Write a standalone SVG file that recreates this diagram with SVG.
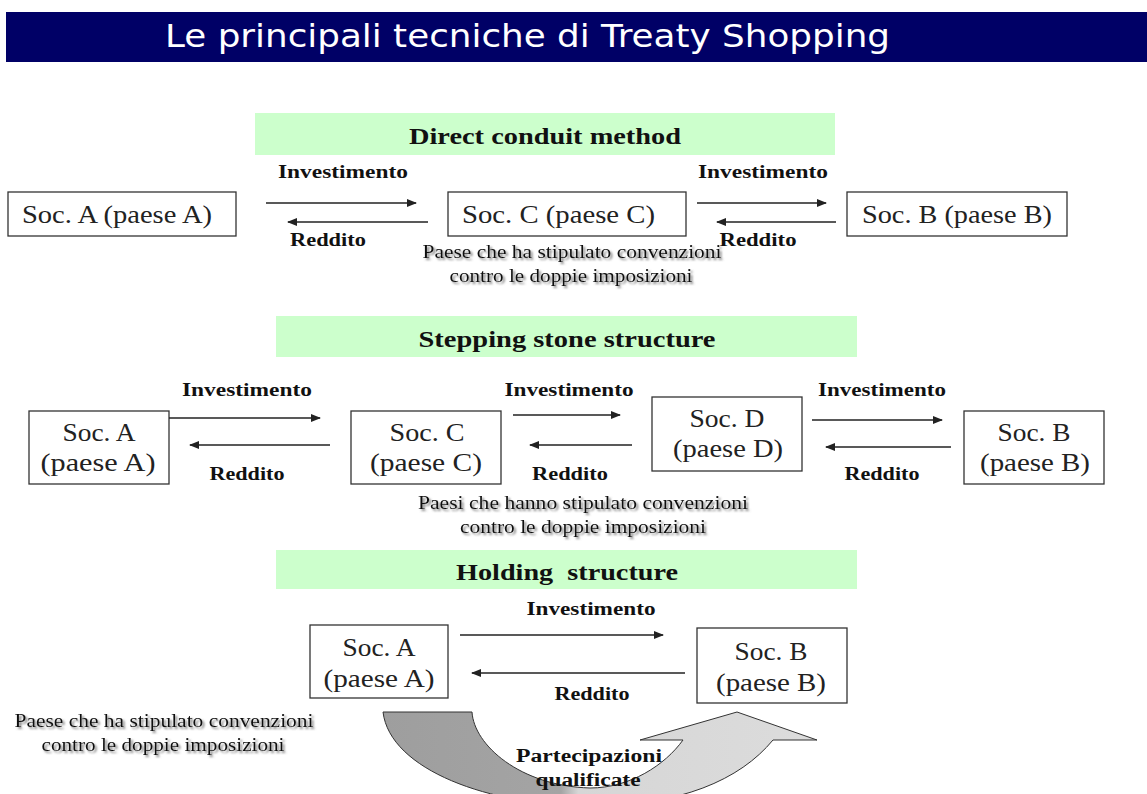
<svg xmlns="http://www.w3.org/2000/svg" width="1147" height="794" viewBox="0 0 1147 794">
  <style>
    .title { font-family: "DejaVu Sans", Verdana, sans-serif; font-size: 32px; fill: #ffffff; }
    .band { fill: #ccffcc; }
    .head { font-family: "Liberation Serif", "Times New Roman", serif; font-size: 24px; font-weight: bold; fill: #111; text-anchor: middle; white-space: pre; }
    .box { fill: #ffffff; stroke: #333; stroke-width: 1.3; }
    .lbl { font-family: "Liberation Serif", "Times New Roman", serif; font-size: 25px; fill: #222; }
    .mid { text-anchor: middle; }
    .edge { font-family: "Liberation Serif", "Times New Roman", serif; font-size: 18px; font-weight: bold; fill: #111; text-anchor: middle; }
    .note { font-family: "Liberation Serif", "Times New Roman", serif; font-size: 18px; fill: #111; text-anchor: middle; filter: url(#shadow); }
    .link { stroke: #222; stroke-width: 1.4; fill: none; marker-end: url(#head); }
  </style>
  <defs>
    <marker id="head" viewBox="0 0 10 8" refX="9" refY="4" markerWidth="10" markerHeight="8" markerUnits="userSpaceOnUse" orient="auto">
      <path d="M0,0 L10,4 L0,8 Z" fill="#222"/>
    </marker>
    <filter id="shadow" x="-5%" y="-30%" width="115%" height="170%">
      <feDropShadow dx="2" dy="2" stdDeviation="1.2" flood-color="#666" flood-opacity="0.85"/>
    </filter>
    <linearGradient id="uturn" gradientUnits="userSpaceOnUse" x1="383" y1="0" x2="817" y2="0">
      <stop offset="0" stop-color="#9e9e9e"/>
      <stop offset="0.41" stop-color="#a4a4a4"/>
      <stop offset="0.45" stop-color="#d6d6d6"/>
      <stop offset="1" stop-color="#dcdcdc"/>
    </linearGradient>
  </defs>

  <!-- title bar -->
  <g id="title">
    <rect x="6" y="12" width="1141" height="50" fill="#000066"/>
    <text class="title" x="165" y="47" textLength="725" lengthAdjust="spacingAndGlyphs">Le principali tecniche di Treaty Shopping</text>
  </g>

  <!-- section headings -->
  <g id="heading-direct">
    <rect class="band" x="255" y="113" width="580" height="42"/>
    <text class="head" x="545" y="144" textLength="272" lengthAdjust="spacingAndGlyphs">Direct conduit method</text>
  </g>
  <g id="heading-stepping">
    <rect class="band" x="276" y="316" width="581" height="41"/>
    <text class="head" x="567" y="347" textLength="297" lengthAdjust="spacingAndGlyphs">Stepping stone structure</text>
  </g>
  <g id="heading-holding">
    <rect class="band" x="276" y="550" width="581" height="39"/>
    <text class="head" x="567" y="580" textLength="222" lengthAdjust="spacingAndGlyphs" xml:space="preserve">Holding  structure</text>
  </g>

  <!-- curved holding arrow -->
  <g id="participations">
    <path d="M383,712 L472,712 C474,745 520,786 590,788 C630,788 665,765 683,740 L640,740 L737,712 L817,740 L773,740 C740,780 680,806 590,806 C490,806 390,770 383,712 Z" fill="url(#uturn)" stroke="#333" stroke-width="1"/>
    <text class="edge" x="589" y="762" textLength="146" lengthAdjust="spacingAndGlyphs">Partecipazioni</text>
    <text class="edge" x="588" y="786" textLength="105" lengthAdjust="spacingAndGlyphs">qualificate</text>
  </g>

  <!-- row 1: direct conduit -->
  <g id="d-socA">
    <rect class="box" x="8" y="192" width="228" height="44"/>
    <text class="lbl" x="22" y="223" textLength="190" lengthAdjust="spacingAndGlyphs">Soc. A (paese A)</text>
  </g>
  <g id="d-socC">
    <rect class="box" x="448" y="192" width="238" height="44"/>
    <text class="lbl" x="462" y="223" textLength="193" lengthAdjust="spacingAndGlyphs">Soc. C (paese C)</text>
  </g>
  <g id="d-socB">
    <rect class="box" x="847" y="192" width="220" height="44"/>
    <text class="lbl" x="862" y="223" textLength="190" lengthAdjust="spacingAndGlyphs">Soc. B (paese B)</text>
  </g>
  <g id="d-note">
    <text class="note" x="572" y="258" textLength="299" lengthAdjust="spacingAndGlyphs">Paese che ha stipulato convenzioni</text>
    <text class="note" x="571" y="282" textLength="243" lengthAdjust="spacingAndGlyphs">contro le doppie imposizioni</text>
  </g>

  <!-- row 2: stepping stone -->
  <g id="s-socA">
    <rect class="box" x="29" y="411" width="140" height="73"/>
    <text class="lbl mid" x="99" y="441" textLength="73" lengthAdjust="spacingAndGlyphs">Soc. A</text>
    <text class="lbl mid" x="98" y="471" textLength="115" lengthAdjust="spacingAndGlyphs">(paese A)</text>
  </g>
  <g id="s-socC">
    <rect class="box" x="351" y="411" width="150" height="73"/>
    <text class="lbl mid" x="427" y="441" textLength="75" lengthAdjust="spacingAndGlyphs">Soc. C</text>
    <text class="lbl mid" x="426" y="471" textLength="112" lengthAdjust="spacingAndGlyphs">(paese C)</text>
  </g>
  <g id="s-socD">
    <rect class="box" x="652" y="397" width="150" height="74"/>
    <text class="lbl mid" x="727" y="427" textLength="75" lengthAdjust="spacingAndGlyphs">Soc. D</text>
    <text class="lbl mid" x="728" y="457" textLength="110" lengthAdjust="spacingAndGlyphs">(paese D)</text>
  </g>
  <g id="s-socB">
    <rect class="box" x="964" y="411" width="140" height="73"/>
    <text class="lbl mid" x="1034" y="441" textLength="73" lengthAdjust="spacingAndGlyphs">Soc. B</text>
    <text class="lbl mid" x="1035" y="471" textLength="110" lengthAdjust="spacingAndGlyphs">(paese B)</text>
  </g>
  <g id="s-note">
    <text class="note" x="583" y="509" textLength="330" lengthAdjust="spacingAndGlyphs">Paesi che hanno stipulato convenzioni</text>
    <text class="note" x="583" y="533" textLength="246" lengthAdjust="spacingAndGlyphs">contro le doppie imposizioni</text>
  </g>

  <!-- row 3: holding -->
  <g id="h-socA">
    <rect class="box" x="310" y="625" width="138" height="73"/>
    <text class="lbl mid" x="379" y="656" textLength="73" lengthAdjust="spacingAndGlyphs">Soc. A</text>
    <text class="lbl mid" x="379" y="687" textLength="111" lengthAdjust="spacingAndGlyphs">(paese A)</text>
  </g>
  <g id="h-socB">
    <rect class="box" x="697" y="628" width="150" height="75"/>
    <text class="lbl mid" x="771" y="660" textLength="73" lengthAdjust="spacingAndGlyphs">Soc. B</text>
    <text class="lbl mid" x="771" y="691" textLength="110" lengthAdjust="spacingAndGlyphs">(paese B)</text>
  </g>
  <g id="h-note">
    <text class="note" x="164" y="727" textLength="299" lengthAdjust="spacingAndGlyphs">Paese che ha stipulato convenzioni</text>
    <text class="note" x="163" y="751" textLength="243" lengthAdjust="spacingAndGlyphs">contro le doppie imposizioni</text>
  </g>

  <!-- connectors -->
  <g id="connectors">
    <!-- direct conduit -->
    <line class="link" x1="266" y1="203" x2="416" y2="203"/>
    <line class="link" x1="428" y1="222" x2="288" y2="222"/>
    <line class="link" x1="697" y1="203" x2="826" y2="203"/>
    <line class="link" x1="836" y1="222" x2="717" y2="222"/>
    <text class="edge" x="343" y="178" textLength="130" lengthAdjust="spacingAndGlyphs">Investimento</text>
    <text class="edge" x="328" y="246" textLength="76" lengthAdjust="spacingAndGlyphs">Reddito</text>
    <text class="edge" x="763" y="178" textLength="130" lengthAdjust="spacingAndGlyphs">Investimento</text>
    <text class="edge" x="758" y="246" textLength="77" lengthAdjust="spacingAndGlyphs">Reddito</text>

    <!-- stepping stone -->
    <line class="link" x1="169" y1="418" x2="320" y2="418"/>
    <line class="link" x1="330" y1="445" x2="190" y2="445"/>
    <line class="link" x1="513" y1="415" x2="620" y2="415"/>
    <line class="link" x1="632" y1="445" x2="530" y2="445"/>
    <line class="link" x1="812" y1="420" x2="942" y2="420"/>
    <line class="link" x1="951" y1="447" x2="826" y2="447"/>
    <text class="edge" x="247" y="396" textLength="130" lengthAdjust="spacingAndGlyphs">Investimento</text>
    <text class="edge" x="247" y="480" textLength="75" lengthAdjust="spacingAndGlyphs">Reddito</text>
    <text class="edge" x="569" y="396" textLength="129" lengthAdjust="spacingAndGlyphs">Investimento</text>
    <text class="edge" x="570" y="480" textLength="76" lengthAdjust="spacingAndGlyphs">Reddito</text>
    <text class="edge" x="882" y="396" textLength="128" lengthAdjust="spacingAndGlyphs">Investimento</text>
    <text class="edge" x="882" y="480" textLength="75" lengthAdjust="spacingAndGlyphs">Reddito</text>

    <!-- holding -->
    <line class="link" x1="460" y1="635" x2="663" y2="635"/>
    <line class="link" x1="685" y1="673" x2="472" y2="673"/>
    <text class="edge" x="591" y="615" textLength="129" lengthAdjust="spacingAndGlyphs">Investimento</text>
    <text class="edge" x="592" y="700" textLength="75" lengthAdjust="spacingAndGlyphs">Reddito</text>
  </g>
</svg>
